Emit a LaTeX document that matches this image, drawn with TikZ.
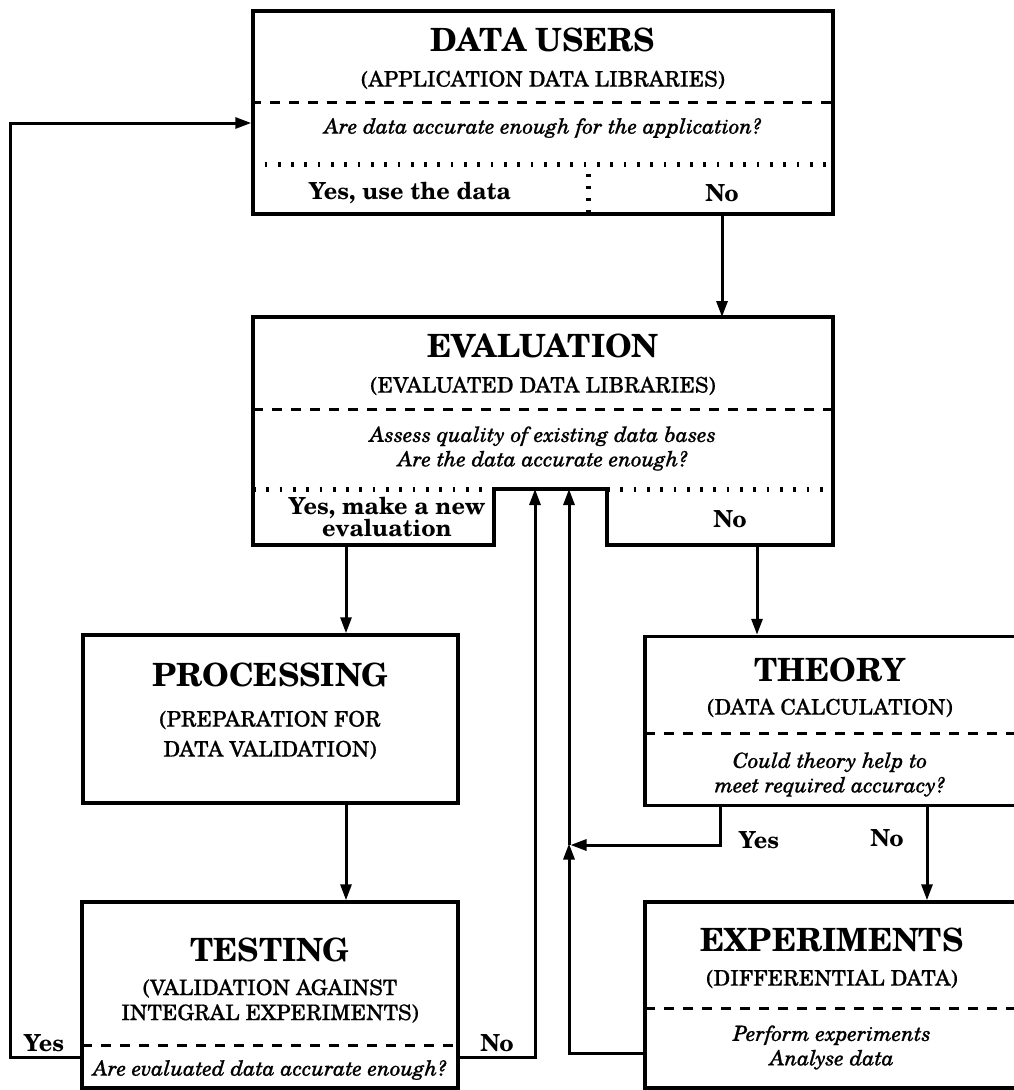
\documentclass[tikz,border=0pt]{standalone}
\usepackage{fontspec}
\setmainfont{texgyreschola}[Extension=.otf, UprightFont=*-regular, BoldFont=*-bold, ItalicFont=*-italic, BoldItalicFont=*-bolditalic]
\newfontface\subfnt{texgyreschola-regular.otf}[FakeBold=0.6]
\newfontface\qstfnt{texgyreschola-italic.otf}[FakeBold=0.9]
\usetikzlibrary{arrows.meta,calc}
\begin{document}
\begin{tikzpicture}[x=1pt,y=-1pt,
  boxline/.style={draw, line width=3.5pt, line join=miter},
  rbox/.style={boxline, rectangle, inner sep=0pt},
  ttl/.style={font=\fontsize{32}{36}\selectfont\bfseries, inner sep=0pt},
  sub/.style={font=\subfnt\fontsize{21.5}{30}\selectfont, align=center, inner sep=0pt},
  qst/.style={font=\qstfnt\fontsize{21}{24.5}\selectfont, align=center, inner sep=0pt},
  lbl/.style={font=\fontsize{23.5}{21}\selectfont\bfseries, align=center, inner sep=0pt},
  dsh/.style={line width=3pt, dash pattern=on 10pt off 9pt},
  dot/.style={line width=5pt, dash pattern=on 2.7pt off 10.6pt},
  arr/.style={line width=3pt, -{Triangle[length=16pt,width=11pt]}},
]
\useasboundingbox[fill=white] (0,0) rectangle (1014,1090);

% ---------- DATA USERS ----------
\node[rbox, minimum width=580, minimum height=203] (users) at (543,112.5) {};
\node[ttl] (usersT) at (543,40) {DATA USERS};
\node[sub] (usersS) at (543,80) {(APPLICATION DATA LIBRARIES)};
\draw[dsh] (users.west |- 0,102) -- (users.east |- 0,102);
\node[qst] (usersQ) at (543,128) {Are data accurate enough for the application?};
\draw[dot] (users.west |- 0,164) -- (users.east |- 0,164);
\draw[line width=5pt, dash pattern=on 3pt off 9pt] (588,174) -- (588,214);
\node[lbl] (usersY) at (410,193) {Yes, use the data};
\node[lbl] (usersN) at (722,193) {No};

% ---------- EVALUATION ----------
\coordinate (evTL) at (253,317);
\coordinate (evTR) at (833,317);
\coordinate (evNL) at (494,489);
\coordinate (evNR) at (607,489);
\coordinate (evBL) at (253,545);
\coordinate (evBR) at (833,545);
\draw[boxline] (evTL) -- (evTR) -- (evBR) -- (evNR |- evBR) -- (evNR) -- (evNL) -- (evNL |- evBL) -- (evBL) -- cycle;
\node[ttl] (evalT) at (543,346) {EVALUATION};
\node[sub] (evalS) at (543,386) {(EVALUATED DATA LIBRARIES)};
\draw[dsh] (253,409) -- (833,409);
\node[qst] (evalQ) at (543,448.5) {Assess quality of existing data bases\\Are the data accurate enough?};
\draw[dot] (253,489) -- (494,489);
\draw[dot] (607,489) -- (833,489);
\node[lbl] (evalY) at (387,517) {Yes, make a new\\evaluation};
\node[lbl] (evalN) at (730,519) {No};

% ---------- PROCESSING ----------
\node[rbox, minimum width=375, minimum height=168] (proc) at (270.5,719) {};
\node[ttl] (procT) at (270,675) {PROCESSING};
\node[sub] (procS) at (270,735) {(PREPARATION FOR\\DATA VALIDATION)};

% ---------- THEORY ----------
\node[rbox, minimum width=373, minimum height=169] (theo) at (831.5,721) {};
\node[ttl] (theoT) at (830,670) {THEORY};
\node[sub] (theoS) at (830,708) {(DATA CALCULATION)};
\draw[dsh] (645,733) -- (1018,733);
\node[qst] (theoQ) at (830,774.5) {Could theory help to\\meet required accuracy?};

% ---------- TESTING ----------
\node[rbox, minimum width=376, minimum height=186] (test) at (270,995) {};
\node[ttl] (testT) at (270,950) {TESTING};
\node[sub, font=\subfnt\fontsize{21.5}{25}\selectfont] (testS) at (270,1001) {(VALIDATION AGAINST\\INTEGRAL EXPERIMENTS)};
\draw[dsh] (82,1045) -- (458,1045);
\node[qst] (testQ) at (270,1070) {Are evaluated data accurate enough?};
\node[lbl] (testY) at (44,1043) {Yes};
\node[lbl] (testN) at (497,1043) {No};

% ---------- EXPERIMENTS ----------
\node[rbox, minimum width=373, minimum height=186] (expt) at (831.5,995) {};
\node[ttl] (exptT) at (832,940) {EXPERIMENTS};
\node[sub] (exptS) at (832,979) {(DIFFERENTIAL DATA)};
\draw[dsh] (645,1008) -- (1018,1008);
\node[qst] (exptQ) at (832,1047.5) {Perform experiments\\Analyse data};

% ---------- labels between theory and experiments ----------
\node[lbl] (theoY) at (759,840) {Yes};
\node[lbl] (theoN) at (887,838) {No};

% ---------- connectors ----------
\coordinate (xUN) at (722,0);
\coordinate (xEL) at (346,0);
\coordinate (xER) at (757,0);
\coordinate (xTN) at (927,0);
\coordinate (xTY) at (720,0);
\coordinate (xA1) at (535,0);
\coordinate (xA2) at (569,0);
\coordinate (xLoop) at (10,0);
\coordinate (yLoop) at (0,123);
\coordinate (yJoin) at (0,845);
\coordinate (yTestRow) at (0,1057);
\coordinate (yExpRow) at (0,1053);

\draw[arr] (users.south -| xUN) -- (evTL -| xUN);
\draw[arr] (evBL -| xEL) -- (proc.north -| xEL);
\draw[arr] (evBR -| xER) -- (theo.north -| xER);
\draw[arr] (proc.south -| xEL) -- (test.north -| xEL);
\draw[arr] (theo.south -| xTN) -- (expt.north -| xTN);
\draw[arr] (theo.south -| xTY) -- (xTY |- yJoin) -- ($(xA2 |- yJoin)+(1.5,0)$);
\draw[arr] (expt.west |- yExpRow) -- (xA2 |- yExpRow) -- ($(xA2 |- yJoin)+(0,-1.5)$);
\draw[arr] (xA2 |- yJoin) -- (xA2 |- evNL);
\draw[arr] (test.east |- yTestRow) -- (xA1 |- yTestRow) -- (xA1 |- evNL);
\draw[arr] (test.west |- yTestRow) -- (xLoop |- yTestRow) -- (xLoop |- yLoop) -- (users.west |- yLoop);
\end{tikzpicture}
\end{document}
